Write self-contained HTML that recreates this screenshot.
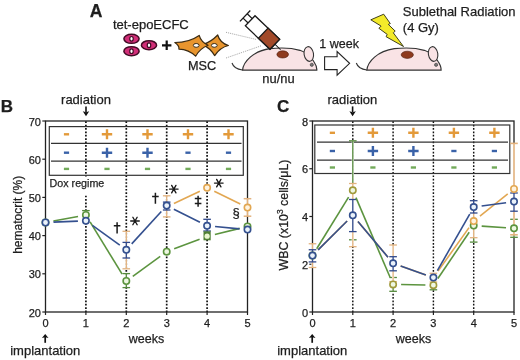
<!DOCTYPE html>
<html><head><meta charset="utf-8"><style>
html,body{margin:0;padding:0;background:#fff;width:520px;height:360px;overflow:hidden}
svg{display:block;will-change:transform}
text{font-family:"Liberation Sans", sans-serif;stroke:#1e1e1e;stroke-width:0.25px}
</style></head><body>
<svg width="520" height="360" viewBox="0 0 520 360" font-family='"Liberation Sans", sans-serif'>
<rect width="520" height="360" fill="#fff"/>
<text x="89.8" y="16.7" font-size="17.6" text-anchor="start" font-weight="bold" fill="#1e1e1e" >A</text>
<text x="112.9" y="28.5" font-size="13" text-anchor="start" font-weight="normal" fill="#1e1e1e" >tet-epoECFC</text>
<ellipse cx="131.5" cy="38.85" rx="7.6" ry="4.5" fill="#d22e78" stroke="#420b24" stroke-width="1.5"/>
<ellipse cx="131.5" cy="38.85" rx="1.75" ry="2.35" fill="#fff" stroke="#420b24" stroke-width="1.2"/>
<ellipse cx="131.5" cy="51.15" rx="7.6" ry="4.5" fill="#d22e78" stroke="#420b24" stroke-width="1.5"/>
<ellipse cx="131.5" cy="51.15" rx="1.75" ry="2.35" fill="#fff" stroke="#420b24" stroke-width="1.2"/>
<ellipse cx="149" cy="45.2" rx="7.6" ry="4.5" fill="#d22e78" stroke="#420b24" stroke-width="1.5"/>
<ellipse cx="149" cy="45.2" rx="1.75" ry="2.35" fill="#fff" stroke="#420b24" stroke-width="1.2"/>
<path d="M162 45.3 H171.4 M166.7 40.6 V50" stroke="#111" stroke-width="2.2" fill="none"/>
<path d="M202.8 44.6 Q211 42 217.7 35 Q220 43 228.4 45.5 Q220 47.5 214.7 55.6 Q210 48 202.8 44.6 Z" fill="#e8952e" stroke="#3a2a12" stroke-width="1.2" stroke-linejoin="round"/>
<path d="M174.8 42.5 Q189 42.5 199.2 35.4 Q201 42 208.1 45.3 Q200 48.5 195.6 56.2 Q189 49.5 178.9 49.1 Q179.5 45.5 174.8 42.5 Z" fill="#e8952e" stroke="#3a2a12" stroke-width="1.2" stroke-linejoin="round"/>
<ellipse cx="196.2" cy="45.4" rx="2.9" ry="1.9" fill="#fff" stroke="#3a2a12" stroke-width="1"/>
<ellipse cx="214.3" cy="45.4" rx="2.9" ry="1.9" fill="#fff" stroke="#3a2a12" stroke-width="1"/>
<text x="188" y="69.6" font-size="12.7" text-anchor="start" font-weight="normal" fill="#1e1e1e" >MSC</text>
<line x1="226" y1="32.3" x2="256" y2="39.4" stroke="#8a8a8a" stroke-width="0.8" stroke-dasharray="1 1"/>
<line x1="226" y1="58" x2="261.7" y2="45.6" stroke="#8a8a8a" stroke-width="0.8" stroke-dasharray="1 1"/>
<g transform="translate(0,0)"><path d="M232 63 Q234 69 242.5 70" fill="none" stroke="#333" stroke-width="1.1"/><path d="M242.5 70.2 C243.5 61.5 253 51.2 270 48.7 C280 47.6 292 48 300 50.3 C306 52.3 311 56.5 313.8 61.5 C315.8 64.5 317 67.5 316.8 70.2 Z" fill="#f9e3e5" stroke="#333" stroke-width="1.2"/><ellipse cx="308.8" cy="54" rx="4.7" ry="7.4" transform="rotate(-9 308.8 54)" fill="#f9e3e5" stroke="#333" stroke-width="1.1"/><circle cx="311.8" cy="64.8" r="1.6" fill="#777" stroke="#333" stroke-width="0.6"/></g>
<ellipse cx="282.7" cy="54.4" rx="5.8" ry="3.6" fill="#8e3a1e" stroke="#4a1a0a" stroke-width="0.6"/>
<text x="262.3" y="83.3" font-size="12.9" text-anchor="start" font-weight="normal" fill="#1e1e1e" >nu/nu</text>
<g transform="translate(262.5,32.5) rotate(43.6)"><rect x="-17" y="-7" width="34" height="14" fill="#fff" stroke="#1a1a1a" stroke-width="1.3"/><rect x="1" y="-7" width="16" height="14" fill="#a24a2a" stroke="#1a1a1a" stroke-width="1.3"/><path d="M-17 -3 H-24 M-17 3 H-24 M-24 -7.5 V7.5" stroke="#1a1a1a" stroke-width="1.3" fill="none"/><line x1="17" y1="0" x2="25" y2="0" stroke="#1a1a1a" stroke-width="1"/></g>
<text x="319.3" y="48" font-size="12.5" text-anchor="start" font-weight="normal" fill="#1e1e1e" >1 week</text>
<path d="M324.6 56.7 H337.1 V51.5 L349.6 63.3 L337.1 75.1 V69.6 H324.6 Z" fill="#fff" stroke="#222" stroke-width="1.1" stroke-linejoin="miter"/>
<g transform="translate(124.3,0)"><path d="M232 63 Q234 69 242.5 70" fill="none" stroke="#333" stroke-width="1.1"/><path d="M242.5 70.2 C243.5 61.5 253 51.2 270 48.7 C280 47.6 292 48 300 50.3 C306 52.3 311 56.5 313.8 61.5 C315.8 64.5 317 67.5 316.8 70.2 Z" fill="#f9e3e5" stroke="#333" stroke-width="1.2"/><ellipse cx="308.8" cy="54" rx="4.7" ry="7.4" transform="rotate(-9 308.8 54)" fill="#f9e3e5" stroke="#333" stroke-width="1.1"/><circle cx="311.8" cy="64.8" r="1.6" fill="#777" stroke="#333" stroke-width="0.6"/></g>
<ellipse cx="407.3" cy="54.8" rx="6.1" ry="3.6" fill="#8e3a1e" stroke="#4a1a0a" stroke-width="0.6"/>
<path d="M370.8 19.8 L383.7 14.2 L390.3 23.6 L388.3 24.4 L395.2 31.1 L393.3 32.8 L403.5 46.5 L386.1 36.7 L387.2 34.4 L378.9 28.3 L381.1 26.1 Z" fill="#f3ea2a" stroke="#2a2a10" stroke-width="0.9" stroke-linejoin="miter"/>
<text x="402.8" y="16.2" font-size="13" text-anchor="start" font-weight="normal" fill="#1e1e1e" >Sublethal Radiation</text>
<text x="402.8" y="31.5" font-size="13" text-anchor="start" font-weight="normal" fill="#1e1e1e" >(4 Gy)</text>
<text x="0.7" y="111.9" font-size="17" text-anchor="start" font-weight="bold" fill="#1e1e1e" >B</text>
<text x="86" y="104.3" font-size="13" text-anchor="middle" font-weight="normal" fill="#1e1e1e" >radiation</text>
<path d="M86 106.4 V112" stroke="#111" stroke-width="1.6"/><path d="M82.8 111.3 L86 116.3 L89.2 111.3 L86 112.3 Z" fill="#111"/>
<line x1="85.90" y1="121" x2="85.90" y2="312" stroke="#111" stroke-width="1.7" stroke-dasharray="1.7 1.68" stroke-dashoffset="-0.31"/>
<line x1="126.30" y1="121" x2="126.30" y2="312" stroke="#111" stroke-width="1.7" stroke-dasharray="1.7 1.68" stroke-dashoffset="-0.31"/>
<line x1="166.70" y1="121" x2="166.70" y2="312" stroke="#111" stroke-width="1.7" stroke-dasharray="1.7 1.68" stroke-dashoffset="-0.31"/>
<line x1="207.10" y1="121" x2="207.10" y2="312" stroke="#111" stroke-width="1.7" stroke-dasharray="1.7 1.68" stroke-dashoffset="-0.31"/>
<rect x="49.3" y="126.6" width="194" height="48.7" fill="none" stroke="#333" stroke-width="1.2"/>
<line x1="51.00" y1="143.40" x2="241.50" y2="143.40" stroke="#333" stroke-width="1.2" />
<line x1="51.00" y1="161.20" x2="241.50" y2="161.20" stroke="#333" stroke-width="1.2" />
<path d="M63.90 134.30 H69.10" stroke="#e39a3a" stroke-width="2.4" fill="none"/>
<path d="M101.80 134.30 H112.20 M107.00 129.30 V139.30" stroke="#e39a3a" stroke-width="2.4" fill="none"/>
<path d="M142.30 134.30 H152.70 M147.50 129.30 V139.30" stroke="#e39a3a" stroke-width="2.4" fill="none"/>
<path d="M182.80 134.30 H193.20 M188.00 129.30 V139.30" stroke="#e39a3a" stroke-width="2.4" fill="none"/>
<path d="M223.30 134.30 H233.70 M228.50 129.30 V139.30" stroke="#e39a3a" stroke-width="2.4" fill="none"/>
<path d="M63.90 152.70 H69.10" stroke="#3a62a8" stroke-width="2.4" fill="none"/>
<path d="M101.80 152.70 H112.20 M107.00 147.70 V157.70" stroke="#3a62a8" stroke-width="2.4" fill="none"/>
<path d="M142.30 152.70 H152.70 M147.50 147.70 V157.70" stroke="#3a62a8" stroke-width="2.4" fill="none"/>
<path d="M185.40 152.70 H190.60" stroke="#3a62a8" stroke-width="2.4" fill="none"/>
<path d="M225.90 152.70 H231.10" stroke="#3a62a8" stroke-width="2.4" fill="none"/>
<path d="M63.90 168.90 H69.10" stroke="#72aa5a" stroke-width="2.4" fill="none"/>
<path d="M104.40 168.90 H109.60" stroke="#72aa5a" stroke-width="2.4" fill="none"/>
<path d="M144.90 168.90 H150.10" stroke="#72aa5a" stroke-width="2.4" fill="none"/>
<path d="M185.40 168.90 H190.60" stroke="#72aa5a" stroke-width="2.4" fill="none"/>
<path d="M225.90 168.90 H231.10" stroke="#72aa5a" stroke-width="2.4" fill="none"/>
<rect x="49" y="176.5" width="57" height="18" fill="#fff"/>
<text x="49.6" y="186.6" font-size="10.7" text-anchor="start" font-weight="normal" fill="#1e1e1e" >Dox regime</text>
<rect x="45.5" y="121" width="202" height="191" fill="none" stroke="#222" stroke-width="1.3"/>
<line x1="42.30" y1="121.00" x2="45.50" y2="121.00" stroke="#222" stroke-width="1.2" />
<text x="41" y="125.6" font-size="11" text-anchor="end" font-weight="normal" fill="#1e1e1e" >70</text>
<line x1="42.30" y1="159.20" x2="45.50" y2="159.20" stroke="#222" stroke-width="1.2" />
<text x="41" y="163.79999999999998" font-size="11" text-anchor="end" font-weight="normal" fill="#1e1e1e" >60</text>
<line x1="42.30" y1="197.40" x2="45.50" y2="197.40" stroke="#222" stroke-width="1.2" />
<text x="41" y="202.0" font-size="11" text-anchor="end" font-weight="normal" fill="#1e1e1e" >50</text>
<line x1="42.30" y1="235.60" x2="45.50" y2="235.60" stroke="#222" stroke-width="1.2" />
<text x="41" y="240.20000000000002" font-size="11" text-anchor="end" font-weight="normal" fill="#1e1e1e" >40</text>
<line x1="42.30" y1="273.80" x2="45.50" y2="273.80" stroke="#222" stroke-width="1.2" />
<text x="41" y="278.40000000000003" font-size="11" text-anchor="end" font-weight="normal" fill="#1e1e1e" >30</text>
<line x1="42.30" y1="312.00" x2="45.50" y2="312.00" stroke="#222" stroke-width="1.2" />
<text x="41" y="316.6" font-size="11" text-anchor="end" font-weight="normal" fill="#1e1e1e" >20</text>
<line x1="45.50" y1="312.00" x2="45.50" y2="315.00" stroke="#222" stroke-width="1.2" />
<text x="45.5" y="327" font-size="11" text-anchor="middle" font-weight="normal" fill="#1e1e1e" >0</text>
<line x1="85.90" y1="312.00" x2="85.90" y2="315.00" stroke="#222" stroke-width="1.2" />
<text x="85.9" y="327" font-size="11" text-anchor="middle" font-weight="normal" fill="#1e1e1e" >1</text>
<line x1="126.30" y1="312.00" x2="126.30" y2="315.00" stroke="#222" stroke-width="1.2" />
<text x="126.3" y="327" font-size="11" text-anchor="middle" font-weight="normal" fill="#1e1e1e" >2</text>
<line x1="166.70" y1="312.00" x2="166.70" y2="315.00" stroke="#222" stroke-width="1.2" />
<text x="166.7" y="327" font-size="11" text-anchor="middle" font-weight="normal" fill="#1e1e1e" >3</text>
<line x1="207.10" y1="312.00" x2="207.10" y2="315.00" stroke="#222" stroke-width="1.2" />
<text x="207.1" y="327" font-size="11" text-anchor="middle" font-weight="normal" fill="#1e1e1e" >4</text>
<line x1="247.50" y1="312.00" x2="247.50" y2="315.00" stroke="#222" stroke-width="1.2" />
<text x="247.5" y="327" font-size="11" text-anchor="middle" font-weight="normal" fill="#1e1e1e" >5</text>
<text x="146.5" y="342.7" font-size="12.5" text-anchor="middle" font-weight="normal" fill="#1e1e1e" >weeks</text>
<path d="M45.2 342.8 V337" stroke="#111" stroke-width="1.7"/><path d="M41.9 338 L45.2 333.9 L48.5 338 L45.2 337.2 Z" fill="#111"/>
<text x="45.3" y="355.3" font-size="13" text-anchor="middle" font-weight="normal" fill="#1e1e1e" >implantation</text>
<text x="22.3" y="214.8" font-size="12" text-anchor="middle" font-weight="normal" fill="#1e1e1e" transform="rotate(-90 22.3 214.8)">hematocrit (%)</text>
<line x1="126.30" y1="231.30" x2="126.30" y2="268.80" stroke="#fff" stroke-width="2.2" />
<line x1="126.30" y1="231.30" x2="126.30" y2="268.80" stroke="#e2b27e" stroke-width="1.3" />
<line x1="122.50" y1="231.30" x2="130.10" y2="231.30" stroke="#e2b27e" stroke-width="1.3" />
<line x1="122.50" y1="268.80" x2="130.10" y2="268.80" stroke="#e2b27e" stroke-width="1.3" />
<line x1="166.70" y1="195.80" x2="166.70" y2="216.90" stroke="#fff" stroke-width="2.2" />
<line x1="166.70" y1="195.80" x2="166.70" y2="216.90" stroke="#e2b27e" stroke-width="1.3" />
<line x1="162.90" y1="195.80" x2="170.50" y2="195.80" stroke="#e2b27e" stroke-width="1.3" />
<line x1="162.90" y1="216.90" x2="170.50" y2="216.90" stroke="#e2b27e" stroke-width="1.3" />
<line x1="247.50" y1="198.70" x2="247.50" y2="216.20" stroke="#fff" stroke-width="2.2" />
<line x1="247.50" y1="198.70" x2="247.50" y2="216.20" stroke="#e2b27e" stroke-width="1.5" />
<line x1="243.70" y1="198.70" x2="251.30" y2="198.70" stroke="#e2b27e" stroke-width="1.5" />
<line x1="243.70" y1="216.20" x2="251.30" y2="216.20" stroke="#e2b27e" stroke-width="1.5" />
<line x1="126.30" y1="242.40" x2="126.30" y2="258.00" stroke="#fff" stroke-width="2.2" />
<line x1="126.30" y1="242.40" x2="126.30" y2="258.00" stroke="#30488a" stroke-width="1.3" />
<line x1="122.50" y1="242.40" x2="130.10" y2="242.40" stroke="#30488a" stroke-width="1.3" />
<line x1="122.50" y1="258.00" x2="130.10" y2="258.00" stroke="#30488a" stroke-width="1.3" />
<line x1="166.70" y1="202.10" x2="166.70" y2="210.00" stroke="#fff" stroke-width="2.2" />
<line x1="166.70" y1="202.10" x2="166.70" y2="210.00" stroke="#30488a" stroke-width="1.3" />
<line x1="162.90" y1="202.10" x2="170.50" y2="202.10" stroke="#30488a" stroke-width="1.3" />
<line x1="162.90" y1="210.00" x2="170.50" y2="210.00" stroke="#30488a" stroke-width="1.3" />
<line x1="207.10" y1="219.30" x2="207.10" y2="231.00" stroke="#fff" stroke-width="2.2" />
<line x1="207.10" y1="219.30" x2="207.10" y2="231.00" stroke="#30488a" stroke-width="1.3" />
<line x1="203.30" y1="219.30" x2="210.90" y2="219.30" stroke="#30488a" stroke-width="1.3" />
<line x1="203.30" y1="231.00" x2="210.90" y2="231.00" stroke="#30488a" stroke-width="1.3" />
<line x1="126.30" y1="273.60" x2="126.30" y2="287.60" stroke="#fff" stroke-width="2.2" />
<line x1="126.30" y1="273.60" x2="126.30" y2="287.60" stroke="#55893d" stroke-width="1.3" />
<line x1="122.50" y1="273.60" x2="130.10" y2="273.60" stroke="#55893d" stroke-width="1.3" />
<line x1="122.50" y1="287.60" x2="130.10" y2="287.60" stroke="#55893d" stroke-width="1.3" />
<line x1="85.90" y1="210.60" x2="85.90" y2="219.00" stroke="#fff" stroke-width="2.2" />
<line x1="85.90" y1="210.60" x2="85.90" y2="219.00" stroke="#55893d" stroke-width="1.3" />
<line x1="82.10" y1="210.60" x2="89.70" y2="210.60" stroke="#55893d" stroke-width="1.3" />
<line x1="173.93" y1="203.57" x2="199.87" y2="191.23" stroke="#e2a752" stroke-width="1.6" />
<line x1="214.28" y1="191.32" x2="240.32" y2="204.08" stroke="#e2a752" stroke-width="1.6" />
<line x1="53.37" y1="221.04" x2="78.03" y2="216.46" stroke="#5c943f" stroke-width="1.6" />
<line x1="90.08" y1="221.82" x2="122.12" y2="274.18" stroke="#5c943f" stroke-width="1.6" />
<line x1="132.78" y1="276.30" x2="160.22" y2="256.40" stroke="#5c943f" stroke-width="1.6" />
<line x1="174.18" y1="248.85" x2="199.62" y2="239.15" stroke="#5c943f" stroke-width="1.6" />
<line x1="214.87" y1="234.41" x2="239.73" y2="228.39" stroke="#5c943f" stroke-width="1.6" />
<line x1="53.49" y1="222.16" x2="77.91" y2="221.14" stroke="#34508f" stroke-width="1.6" />
<line x1="92.40" y1="225.47" x2="119.80" y2="245.13" stroke="#34508f" stroke-width="1.6" />
<line x1="131.70" y1="243.90" x2="161.30" y2="211.50" stroke="#34508f" stroke-width="1.6" />
<line x1="173.86" y1="209.18" x2="199.94" y2="222.22" stroke="#34508f" stroke-width="1.6" />
<line x1="215.06" y1="226.55" x2="239.54" y2="228.85" stroke="#34508f" stroke-width="1.6" />
<circle cx="207.10" cy="187.80" r="3.2" fill="#fff3df" stroke="#e2a752" stroke-width="1.6"/>
<circle cx="247.50" cy="207.60" r="3.2" fill="#fff3df" stroke="#e2a752" stroke-width="1.6"/>
<circle cx="45.50" cy="222.50" r="3.2" fill="#eef7e2" stroke="#5c943f" stroke-width="1.6"/>
<circle cx="85.90" cy="215.00" r="3.2" fill="#eef7e2" stroke="#5c943f" stroke-width="1.6"/>
<circle cx="126.30" cy="281.00" r="3.2" fill="#eef7e2" stroke="#5c943f" stroke-width="1.6"/>
<circle cx="166.70" cy="251.70" r="3.2" fill="#eef7e2" stroke="#5c943f" stroke-width="1.6"/>
<rect x="203.50" y="231.3" width="7.2" height="9" fill="#4f7f34"/>
<circle cx="207.10" cy="236.2" r="2.6" fill="#e9f5cf"/>
<circle cx="247.50" cy="226.50" r="3.2" fill="#eef7e2" stroke="#5c943f" stroke-width="1.6"/>
<circle cx="45.50" cy="222.50" r="3.2" fill="#eaf2fa" stroke="#34508f" stroke-width="1.6"/>
<circle cx="85.90" cy="220.80" r="3.2" fill="#eaf2fa" stroke="#34508f" stroke-width="1.6"/>
<circle cx="126.30" cy="249.80" r="3.2" fill="#eaf2fa" stroke="#34508f" stroke-width="1.6"/>
<circle cx="166.70" cy="205.60" r="3.2" fill="#eaf2fa" stroke="#34508f" stroke-width="1.6"/>
<circle cx="207.10" cy="225.80" r="3.2" fill="#eaf2fa" stroke="#34508f" stroke-width="1.6"/>
<circle cx="247.50" cy="229.60" r="3.2" fill="#eaf2fa" stroke="#34508f" stroke-width="1.6"/>
<path d="M117.1 222.2 V233.5 M113.8 225.7 H120.39999999999999 " stroke="#1a1a1a" stroke-width="1.5" fill="none"/>
<path d="M130.70 221.00 L139.30 221.00 M132.85 217.28 L137.15 224.72 M137.15 217.28 L132.85 224.72 " stroke="#1a1a1a" stroke-width="1.35" stroke-linecap="round" fill="none"/>
<path d="M155.4 192.8 V203.8 M152.1 196.5 H158.70000000000002 " stroke="#1a1a1a" stroke-width="1.5" fill="none"/>
<path d="M169.50 189.10 L178.10 189.10 M171.65 185.38 L175.95 192.82 M175.95 185.38 L171.65 192.82 " stroke="#1a1a1a" stroke-width="1.35" stroke-linecap="round" fill="none"/>
<path d="M198.1 195.8 V206.7 M194.79999999999998 198.6 H201.4 M194.79999999999998 203.4 H201.4 " stroke="#1a1a1a" stroke-width="1.5" fill="none"/>
<path d="M214.50 183.10 L223.10 183.10 M216.65 179.38 L220.95 186.82 M220.95 179.38 L216.65 186.82 " stroke="#1a1a1a" stroke-width="1.35" stroke-linecap="round" fill="none"/>
<text x="236" y="217.3" font-size="13" text-anchor="middle" font-weight="normal" fill="#1e1e1e" >§</text>
<text x="276.9" y="111.9" font-size="17" text-anchor="start" font-weight="bold" fill="#1e1e1e" >C</text>
<text x="352.4" y="104.3" font-size="13" text-anchor="middle" font-weight="normal" fill="#1e1e1e" >radiation</text>
<path d="M352.6 106.4 V112" stroke="#111" stroke-width="1.6"/><path d="M349.4 111.3 L352.6 116.3 L355.8 111.3 L352.6 112.3 Z" fill="#111"/>
<line x1="352.80" y1="121" x2="352.80" y2="312" stroke="#111" stroke-width="1.45" stroke-dasharray="1.7 1.68" stroke-dashoffset="-0.31"/>
<line x1="393.10" y1="121" x2="393.10" y2="312" stroke="#111" stroke-width="1.45" stroke-dasharray="1.7 1.68" stroke-dashoffset="-0.31"/>
<line x1="433.40" y1="121" x2="433.40" y2="312" stroke="#111" stroke-width="1.45" stroke-dasharray="1.7 1.68" stroke-dashoffset="-0.31"/>
<line x1="473.70" y1="121" x2="473.70" y2="312" stroke="#111" stroke-width="1.45" stroke-dasharray="1.7 1.68" stroke-dashoffset="-0.31"/>
<rect x="314.8" y="125" width="195" height="48.5" fill="none" stroke="#333" stroke-width="1.2"/>
<line x1="317.00" y1="142.10" x2="508.00" y2="142.10" stroke="#333" stroke-width="1.2" />
<line x1="317.00" y1="160.10" x2="508.00" y2="160.10" stroke="#333" stroke-width="1.2" />
<path d="M329.80 132.80 H335.00" stroke="#e39a3a" stroke-width="2.4" fill="none"/>
<path d="M367.70 132.80 H378.10 M372.90 127.80 V137.80" stroke="#e39a3a" stroke-width="2.4" fill="none"/>
<path d="M408.20 132.80 H418.60 M413.40 127.80 V137.80" stroke="#e39a3a" stroke-width="2.4" fill="none"/>
<path d="M448.70 132.80 H459.10 M453.90 127.80 V137.80" stroke="#e39a3a" stroke-width="2.4" fill="none"/>
<path d="M489.20 132.80 H499.60 M494.40 127.80 V137.80" stroke="#e39a3a" stroke-width="2.4" fill="none"/>
<path d="M329.80 151.00 H335.00" stroke="#3a62a8" stroke-width="2.4" fill="none"/>
<path d="M367.70 151.00 H378.10 M372.90 146.00 V156.00" stroke="#3a62a8" stroke-width="2.4" fill="none"/>
<path d="M408.20 151.00 H418.60 M413.40 146.00 V156.00" stroke="#3a62a8" stroke-width="2.4" fill="none"/>
<path d="M451.30 151.00 H456.50" stroke="#3a62a8" stroke-width="2.4" fill="none"/>
<path d="M491.80 151.00 H497.00" stroke="#3a62a8" stroke-width="2.4" fill="none"/>
<path d="M329.80 167.50 H335.00" stroke="#72aa5a" stroke-width="2.4" fill="none"/>
<path d="M370.30 167.50 H375.50" stroke="#72aa5a" stroke-width="2.4" fill="none"/>
<path d="M410.80 167.50 H416.00" stroke="#72aa5a" stroke-width="2.4" fill="none"/>
<path d="M451.30 167.50 H456.50" stroke="#72aa5a" stroke-width="2.4" fill="none"/>
<path d="M491.80 167.50 H497.00" stroke="#72aa5a" stroke-width="2.4" fill="none"/>
<rect x="312.5" y="121" width="201.5" height="191" fill="none" stroke="#222" stroke-width="1.3"/>
<line x1="309.30" y1="121.00" x2="312.50" y2="121.00" stroke="#222" stroke-width="1.2" />
<text x="308" y="125.7" font-size="11" text-anchor="end" font-weight="normal" fill="#1e1e1e" >8</text>
<line x1="309.30" y1="168.75" x2="312.50" y2="168.75" stroke="#222" stroke-width="1.2" />
<text x="308" y="173.45" font-size="11" text-anchor="end" font-weight="normal" fill="#1e1e1e" >6</text>
<line x1="309.30" y1="216.50" x2="312.50" y2="216.50" stroke="#222" stroke-width="1.2" />
<text x="308" y="221.2" font-size="11" text-anchor="end" font-weight="normal" fill="#1e1e1e" >4</text>
<line x1="309.30" y1="264.25" x2="312.50" y2="264.25" stroke="#222" stroke-width="1.2" />
<text x="308" y="268.95" font-size="11" text-anchor="end" font-weight="normal" fill="#1e1e1e" >2</text>
<line x1="309.30" y1="312.00" x2="312.50" y2="312.00" stroke="#222" stroke-width="1.2" />
<text x="308" y="316.7" font-size="11" text-anchor="end" font-weight="normal" fill="#1e1e1e" >0</text>
<line x1="312.50" y1="312.00" x2="312.50" y2="315.00" stroke="#222" stroke-width="1.2" />
<text x="312.5" y="327" font-size="11" text-anchor="middle" font-weight="normal" fill="#1e1e1e" >0</text>
<line x1="352.80" y1="312.00" x2="352.80" y2="315.00" stroke="#222" stroke-width="1.2" />
<text x="352.8" y="327" font-size="11" text-anchor="middle" font-weight="normal" fill="#1e1e1e" >1</text>
<line x1="393.10" y1="312.00" x2="393.10" y2="315.00" stroke="#222" stroke-width="1.2" />
<text x="393.1" y="327" font-size="11" text-anchor="middle" font-weight="normal" fill="#1e1e1e" >2</text>
<line x1="433.40" y1="312.00" x2="433.40" y2="315.00" stroke="#222" stroke-width="1.2" />
<text x="433.4" y="327" font-size="11" text-anchor="middle" font-weight="normal" fill="#1e1e1e" >3</text>
<line x1="473.70" y1="312.00" x2="473.70" y2="315.00" stroke="#222" stroke-width="1.2" />
<text x="473.7" y="327" font-size="11" text-anchor="middle" font-weight="normal" fill="#1e1e1e" >4</text>
<line x1="514.00" y1="312.00" x2="514.00" y2="315.00" stroke="#222" stroke-width="1.2" />
<text x="514.0" y="327" font-size="11" text-anchor="middle" font-weight="normal" fill="#1e1e1e" >5</text>
<text x="413.5" y="342.7" font-size="12.5" text-anchor="middle" font-weight="normal" fill="#1e1e1e" >weeks</text>
<path d="M312.2 342.8 V337" stroke="#111" stroke-width="1.7"/><path d="M308.9 338 L312.2 333.9 L315.5 338 L312.2 337.2 Z" fill="#111"/>
<text x="312.3" y="355.3" font-size="13" text-anchor="middle" font-weight="normal" fill="#1e1e1e" >implantation</text>
<text x="288" y="215" font-size="12.4" text-anchor="middle" font-weight="normal" fill="#1e1e1e" transform="rotate(-90 288 215)">WBC (x10<tspan font-size="8.5" dy="-4.6">3</tspan><tspan dy="4.6"> cells/μL)</tspan></text>
<line x1="352.80" y1="140.80" x2="352.80" y2="239.80" stroke="#fff" stroke-width="2.2" />
<line x1="352.80" y1="140.80" x2="352.80" y2="239.80" stroke="#55893d" stroke-width="1.3" />
<line x1="349.00" y1="140.80" x2="356.60" y2="140.80" stroke="#55893d" stroke-width="1.3" />
<line x1="349.00" y1="239.80" x2="356.60" y2="239.80" stroke="#55893d" stroke-width="1.3" />
<line x1="393.10" y1="277.50" x2="393.10" y2="291.30" stroke="#fff" stroke-width="2.2" />
<line x1="393.10" y1="277.50" x2="393.10" y2="291.30" stroke="#55893d" stroke-width="1.3" />
<line x1="389.30" y1="277.50" x2="396.90" y2="277.50" stroke="#55893d" stroke-width="1.3" />
<line x1="389.30" y1="291.30" x2="396.90" y2="291.30" stroke="#55893d" stroke-width="1.3" />
<line x1="433.40" y1="285.20" x2="433.40" y2="289.80" stroke="#fff" stroke-width="2.2" />
<line x1="433.40" y1="285.20" x2="433.40" y2="289.80" stroke="#55893d" stroke-width="1.3" />
<line x1="429.60" y1="289.80" x2="437.20" y2="289.80" stroke="#55893d" stroke-width="1.3" />
<line x1="473.70" y1="225.60" x2="473.70" y2="242.10" stroke="#fff" stroke-width="2.2" />
<line x1="473.70" y1="225.60" x2="473.70" y2="242.10" stroke="#55893d" stroke-width="1.3" />
<line x1="469.90" y1="242.10" x2="477.50" y2="242.10" stroke="#55893d" stroke-width="1.3" />
<line x1="514.00" y1="219.30" x2="514.00" y2="237.30" stroke="#fff" stroke-width="2.2" />
<line x1="514.00" y1="219.30" x2="514.00" y2="237.30" stroke="#55893d" stroke-width="1.3" />
<line x1="510.20" y1="219.30" x2="517.80" y2="219.30" stroke="#55893d" stroke-width="1.3" />
<line x1="510.20" y1="237.30" x2="517.80" y2="237.30" stroke="#55893d" stroke-width="1.3" />
<line x1="312.50" y1="243.75" x2="312.50" y2="267.50" stroke="#fff" stroke-width="2.2" />
<line x1="312.50" y1="243.75" x2="312.50" y2="267.50" stroke="#e2b27e" stroke-width="1.3" />
<line x1="308.70" y1="243.75" x2="316.30" y2="243.75" stroke="#e2b27e" stroke-width="1.3" />
<line x1="308.70" y1="267.50" x2="316.30" y2="267.50" stroke="#e2b27e" stroke-width="1.3" />
<line x1="352.80" y1="183.50" x2="352.80" y2="246.70" stroke="#fff" stroke-width="2.2" />
<line x1="352.80" y1="183.50" x2="352.80" y2="246.70" stroke="#e2b27e" stroke-width="1.3" />
<line x1="349.00" y1="183.50" x2="356.60" y2="183.50" stroke="#e2b27e" stroke-width="1.3" />
<line x1="349.00" y1="246.70" x2="356.60" y2="246.70" stroke="#e2b27e" stroke-width="1.3" />
<line x1="393.10" y1="245.00" x2="393.10" y2="281.60" stroke="#fff" stroke-width="2.2" />
<line x1="393.10" y1="245.00" x2="393.10" y2="281.60" stroke="#e2b27e" stroke-width="1.3" />
<line x1="389.30" y1="245.00" x2="396.90" y2="245.00" stroke="#e2b27e" stroke-width="1.3" />
<line x1="389.30" y1="281.60" x2="396.90" y2="281.60" stroke="#e2b27e" stroke-width="1.3" />
<line x1="433.40" y1="273.30" x2="433.40" y2="282.00" stroke="#fff" stroke-width="2.2" />
<line x1="433.40" y1="273.30" x2="433.40" y2="282.00" stroke="#e2b27e" stroke-width="1.3" />
<line x1="429.60" y1="273.30" x2="437.20" y2="273.30" stroke="#e2b27e" stroke-width="1.3" />
<line x1="429.60" y1="282.00" x2="437.20" y2="282.00" stroke="#e2b27e" stroke-width="1.3" />
<line x1="473.70" y1="205.00" x2="473.70" y2="237.70" stroke="#fff" stroke-width="2.2" />
<line x1="473.70" y1="205.00" x2="473.70" y2="237.70" stroke="#e2b27e" stroke-width="1.3" />
<line x1="469.90" y1="205.00" x2="477.50" y2="205.00" stroke="#e2b27e" stroke-width="1.3" />
<line x1="469.90" y1="237.70" x2="477.50" y2="237.70" stroke="#e2b27e" stroke-width="1.3" />
<line x1="514.00" y1="143.40" x2="514.00" y2="234.80" stroke="#fff" stroke-width="2.2" />
<line x1="514.00" y1="143.40" x2="514.00" y2="234.80" stroke="#e2b27e" stroke-width="1.6" />
<line x1="510.20" y1="143.40" x2="517.80" y2="143.40" stroke="#e2b27e" stroke-width="1.6" />
<line x1="510.20" y1="234.80" x2="517.80" y2="234.80" stroke="#e2b27e" stroke-width="1.6" />
<line x1="312.50" y1="249.75" x2="312.50" y2="261.90" stroke="#fff" stroke-width="2.2" />
<line x1="312.50" y1="249.75" x2="312.50" y2="261.90" stroke="#30488a" stroke-width="1.3" />
<line x1="308.70" y1="249.75" x2="316.30" y2="249.75" stroke="#30488a" stroke-width="1.3" />
<line x1="308.70" y1="261.90" x2="316.30" y2="261.90" stroke="#30488a" stroke-width="1.3" />
<line x1="352.80" y1="199.50" x2="352.80" y2="231.60" stroke="#fff" stroke-width="2.2" />
<line x1="352.80" y1="199.50" x2="352.80" y2="231.60" stroke="#30488a" stroke-width="1.3" />
<line x1="349.00" y1="199.50" x2="356.60" y2="199.50" stroke="#30488a" stroke-width="1.3" />
<line x1="349.00" y1="231.60" x2="356.60" y2="231.60" stroke="#30488a" stroke-width="1.3" />
<line x1="393.10" y1="256.70" x2="393.10" y2="270.80" stroke="#fff" stroke-width="2.2" />
<line x1="393.10" y1="256.70" x2="393.10" y2="270.80" stroke="#30488a" stroke-width="1.3" />
<line x1="389.30" y1="256.70" x2="396.90" y2="256.70" stroke="#30488a" stroke-width="1.3" />
<line x1="389.30" y1="270.80" x2="396.90" y2="270.80" stroke="#30488a" stroke-width="1.3" />
<line x1="433.40" y1="275.00" x2="433.40" y2="280.50" stroke="#fff" stroke-width="2.2" />
<line x1="433.40" y1="275.00" x2="433.40" y2="280.50" stroke="#30488a" stroke-width="1.3" />
<line x1="473.70" y1="200.70" x2="473.70" y2="213.00" stroke="#fff" stroke-width="2.2" />
<line x1="473.70" y1="200.70" x2="473.70" y2="213.00" stroke="#30488a" stroke-width="1.3" />
<line x1="469.90" y1="200.70" x2="477.50" y2="200.70" stroke="#30488a" stroke-width="1.3" />
<line x1="469.90" y1="213.00" x2="477.50" y2="213.00" stroke="#30488a" stroke-width="1.3" />
<line x1="514.00" y1="193.00" x2="514.00" y2="211.20" stroke="#fff" stroke-width="2.2" />
<line x1="514.00" y1="193.00" x2="514.00" y2="211.20" stroke="#30488a" stroke-width="1.3" />
<line x1="510.20" y1="193.00" x2="517.80" y2="193.00" stroke="#30488a" stroke-width="1.3" />
<line x1="510.20" y1="211.20" x2="517.80" y2="211.20" stroke="#30488a" stroke-width="1.3" />
<line x1="318.16" y1="249.94" x2="347.14" y2="220.96" stroke="#e2a752" stroke-width="1.6" />
<line x1="357.94" y1="221.43" x2="387.96" y2="257.17" stroke="#e2a752" stroke-width="1.6" />
<line x1="400.64" y1="265.98" x2="425.86" y2="274.92" stroke="#e2a752" stroke-width="1.6" />
<line x1="438.05" y1="271.09" x2="469.05" y2="227.61" stroke="#e2a752" stroke-width="1.6" />
<line x1="479.96" y1="216.12" x2="507.74" y2="193.98" stroke="#e2a752" stroke-width="1.6" />
<line x1="316.70" y1="248.79" x2="348.60" y2="197.11" stroke="#5c943f" stroke-width="1.6" />
<line x1="355.95" y1="197.65" x2="389.95" y2="277.05" stroke="#5c943f" stroke-width="1.6" />
<line x1="401.10" y1="284.56" x2="425.40" y2="285.04" stroke="#5c943f" stroke-width="1.6" />
<line x1="437.88" y1="278.57" x2="469.22" y2="232.23" stroke="#5c943f" stroke-width="1.6" />
<line x1="481.68" y1="226.13" x2="506.02" y2="227.77" stroke="#5c943f" stroke-width="1.6" />
<line x1="318.16" y1="249.94" x2="347.14" y2="220.96" stroke="#34508f" stroke-width="1.6" />
<line x1="357.94" y1="221.43" x2="387.96" y2="257.17" stroke="#34508f" stroke-width="1.6" />
<line x1="400.64" y1="265.98" x2="425.86" y2="274.92" stroke="#34508f" stroke-width="1.6" />
<line x1="437.37" y1="270.65" x2="469.73" y2="214.05" stroke="#34508f" stroke-width="1.6" />
<line x1="481.63" y1="206.02" x2="506.07" y2="202.68" stroke="#34508f" stroke-width="1.6" />
<circle cx="312.50" cy="255.60" r="3.2" fill="#eef7e2" stroke="#5c943f" stroke-width="1.6"/>
<circle cx="352.80" cy="190.30" r="3.2" fill="#eef7e2" stroke="#a09a3c" stroke-width="1.6"/>
<circle cx="393.10" cy="284.40" r="3.2" fill="#eef7e2" stroke="#a09a3c" stroke-width="1.6"/>
<circle cx="433.40" cy="285.20" r="3.2" fill="#eef7e2" stroke="#a09a3c" stroke-width="1.6"/>
<circle cx="473.70" cy="225.60" r="3.2" fill="#eef7e2" stroke="#5c943f" stroke-width="1.6"/>
<circle cx="514.00" cy="228.30" r="3.2" fill="#eef7e2" stroke="#5c943f" stroke-width="1.6"/>
<circle cx="473.70" cy="221.10" r="3.2" fill="#fff3df" stroke="#e2a752" stroke-width="1.6"/>
<circle cx="514.00" cy="189.00" r="3.2" fill="#fff3df" stroke="#e2a752" stroke-width="1.6"/>
<circle cx="312.50" cy="255.60" r="3.2" fill="#eaf2fa" stroke="#34508f" stroke-width="1.6"/>
<circle cx="352.80" cy="215.30" r="3.2" fill="#eaf2fa" stroke="#34508f" stroke-width="1.6"/>
<circle cx="393.10" cy="263.30" r="3.2" fill="#eaf2fa" stroke="#34508f" stroke-width="1.6"/>
<circle cx="433.40" cy="277.60" r="3.2" fill="#eaf2fa" stroke="#34508f" stroke-width="1.6"/>
<circle cx="473.70" cy="207.10" r="3.2" fill="#eaf2fa" stroke="#34508f" stroke-width="1.6"/>
<circle cx="514.00" cy="201.60" r="3.2" fill="#eaf2fa" stroke="#34508f" stroke-width="1.6"/>
</svg>
</body></html>
